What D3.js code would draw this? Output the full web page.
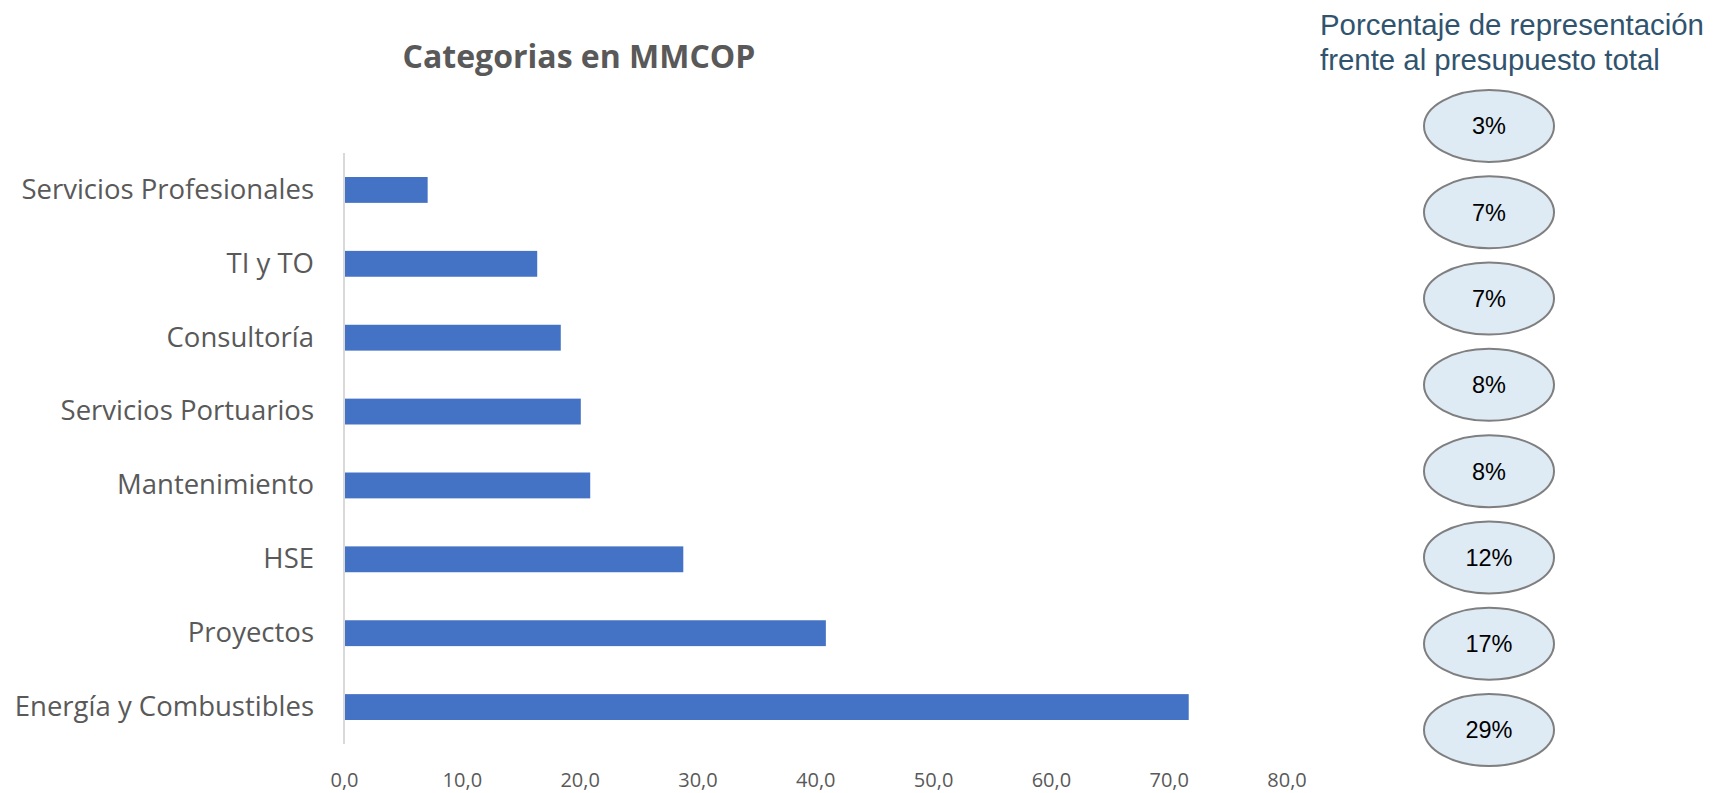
<!DOCTYPE html>
<html>
<head>
<meta charset="utf-8">
<script src="https://cdn.jsdelivr.net/npm/d3@7"></script>
<style>
  html, body { margin: 0; padding: 0; background: #ffffff; }
  svg { display: block; }
</style>
</head>
<body>
<svg id="chart" width="1716" height="793"></svg>
<script>
const categories = ["Servicios Profesionales", "TI y TO", "Consultoría", "Servicios Portuarios", "Mantenimiento", "HSE", "Proyectos", "Energía y Combustibles"];
const values = [7.1, 16.4, 18.4, 20.1, 20.9, 28.8, 40.9, 71.7];
const shares = ["3%", "7%", "7%", "8%", "8%", "12%", "17%", "29%"];
const xTicks = [0, 10, 20, 30, 40, 50, 60, 70, 80];
const title = "Categorias en MMCOP";
const sideTitle = ["Porcentaje de representación", "frente al presupuesto total"];

const svg = d3.select("#chart");

const x = d3.scaleLinear().domain([0, 80]).range([344, 1286.5]);
const y = d3.scaleBand().domain(categories).range([153, 744]).paddingInner(0.65).paddingOuter(0.325);

// Title
svg.append("text")
  .attr("x", 579).attr("y", 68)
  .attr("text-anchor", "middle")
  .attr("font-family", "'Open Sans', sans-serif")
  .attr("font-weight", "bold")
  .attr("font-size", 32)
  .attr("fill", "#595959")
  .text(title);

// Bars
svg.append("g").selectAll("rect")
  .data(categories)
  .join("rect")
  .attr("x", x(0))
  .attr("y", d => y(d))
  .attr("width", (d, i) => x(values[i]) - x(0))
  .attr("height", y.bandwidth())
  .attr("fill", "#4472C4");

// Vertical axis line
svg.append("line")
  .attr("x1", x(0)).attr("x2", x(0))
  .attr("y1", y.range()[0]).attr("y2", y.range()[1])
  .attr("stroke", "#D9D9D9").attr("stroke-width", 2);

// Category labels
const yAxis = d3.axisLeft(y).tickSize(0).tickPadding(30);
const gy = svg.append("g").attr("transform", `translate(${x(0)},0)`).call(yAxis);
gy.select(".domain").remove();
gy.selectAll("text")
  .attr("font-family", "'Open Sans', sans-serif")
  .attr("font-size", 27.5)
  .attr("fill", "#595959");

// X tick labels
const xAxis = d3.axisBottom(x).tickValues(xTicks).tickSize(0).tickPadding(0)
  .tickFormat(d => d3.format(".1f")(d).replace(".", ","));
const gx = svg.append("g").attr("transform", `translate(0,773)`).call(xAxis);
gx.select(".domain").remove();
gx.selectAll("text")
  .attr("font-family", "'Open Sans', sans-serif")
  .attr("font-size", 20)
  .attr("fill", "#595959");

// Side title
const st = svg.append("text")
  .attr("font-family", "'Liberation Sans', Arial, sans-serif")
  .attr("font-size", 29.4)
  .attr("fill", "#31546E");
sideTitle.forEach((t, i) => {
  st.append("tspan").attr("x", 1320).attr("y", 35 + i * 35).text(t);
});

// Ellipses
const ey = d3.scalePoint().domain(categories).range([126, 730]);
const eg = svg.append("g").selectAll("g")
  .data(categories)
  .join("g")
  .attr("transform", d => `translate(1489,${ey(d)})`);
eg.append("ellipse")
  .attr("rx", 65).attr("ry", 36)
  .attr("fill", "#DEEAF4")
  .attr("stroke", "#7F7F7F")
  .attr("stroke-width", 2);
eg.append("text")
  .attr("text-anchor", "middle")
  .attr("dy", "0.36em")
  .attr("font-family", "'Liberation Sans', Arial, sans-serif")
  .attr("font-size", 23.5)
  .attr("fill", "#000000")
  .text((d, i) => shares[i]);
</script>
</body>
</html>
